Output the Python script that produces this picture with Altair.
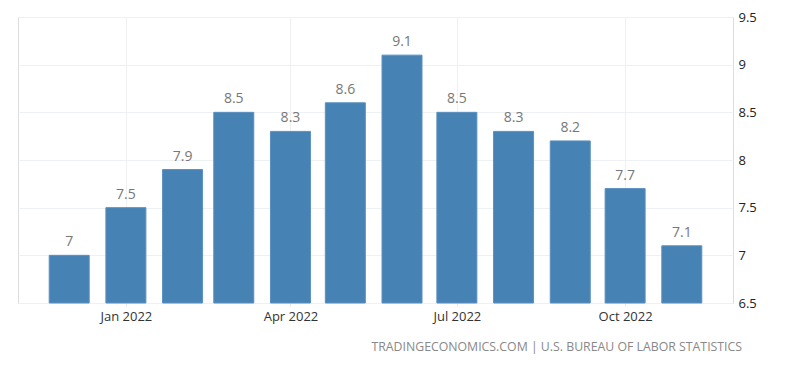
import altair as alt
import pandas as pd

months = ["2021-12-01", "2022-01-01", "2022-02-01", "2022-03-01", "2022-04-01", "2022-05-01",
          "2022-06-01", "2022-07-01", "2022-08-01", "2022-09-01", "2022-10-01", "2022-11-01"]
values = [7.0, 7.5, 7.9, 8.5, 8.3, 8.6, 9.1, 8.5, 8.3, 8.2, 7.7, 7.1]
y_ticks = [6.5, 7, 7.5, 8, 8.5, 9, 9.5]
x_tick_months = [1, 4, 7, 10]
source = "TRADINGECONOMICS.COM | U.S. BUREAU OF LABOR STATISTICS"

df = pd.DataFrame({"date": months, "value": values})
df["base"] = y_ticks[0]

FONT = "Open Sans"

x_scale = alt.Scale(
    type="utc",
    padding=0,
    domain=[alt.DateTime(year=2021, month=11, date=3, utc=True),
            alt.DateTime(year=2022, month=11, date=29, utc=True)],
)

x = alt.X(
    "date:T",
    scale=x_scale,
    axis=alt.Axis(
        title=None,
        values=[alt.DateTime(year=2022, month=m, date=1, utc=True) for m in x_tick_months],
        labelExpr="utcFormat(datum.value, '%b %Y')",
        domain=False,
        ticks=True,
        tickSize=3,
        tickColor="#e6e6e6",
        grid=True,
        gridColor="#f0f0f0",
        labelColor="#333333",
        labelFontSize=13,
        labelFont=FONT,
        labelPadding=4,
    ),
)

y = alt.Y(
    "value:Q",
    scale=alt.Scale(domain=[6.5, 9.5], zero=False, nice=False),
    axis=alt.Axis(
        title=None,
        orient="right",
        values=y_ticks,
        format="~g",
        domain=False,
        ticks=False,
        grid=True,
        gridColor="#eef1f4",
        labelColor="#222222",
        labelFontSize=13,
        labelFont=FONT,
        labelPadding=5,
        labelFlush=False,
    ),
)

base = alt.Chart(df)

bars = base.mark_bar(width=40, color="#4682b4", stroke="#5a90c0", strokeWidth=1).encode(
    x=x, y=y, y2="base:Q"
)

labels = base.mark_text(
    baseline="bottom", dy=-6, fontSize=14, color="#777777", font=FONT
).encode(
    x=x,
    y=y,
    text=alt.Text("value:Q", format=".1~f"),
)

chart = (
    alt.layer(bars, labels)
    .properties(
        width=715,
        height=286,
        padding={"left": 10, "top": 3, "right": 5, "bottom": 5},
        title=alt.TitleParams(
            text=source,
            orient="bottom",
            anchor="end",
            frame="group",
            color="#888888",
            fontSize=12.3,
            fontWeight="normal",
            font=FONT,
            offset=18,
            dx=9,
        ),
    )
    .configure_view(stroke=None)
    .configure(background="white")
)

chart.save("out.html", embed_options={"renderer": "svg", "actions": False})
